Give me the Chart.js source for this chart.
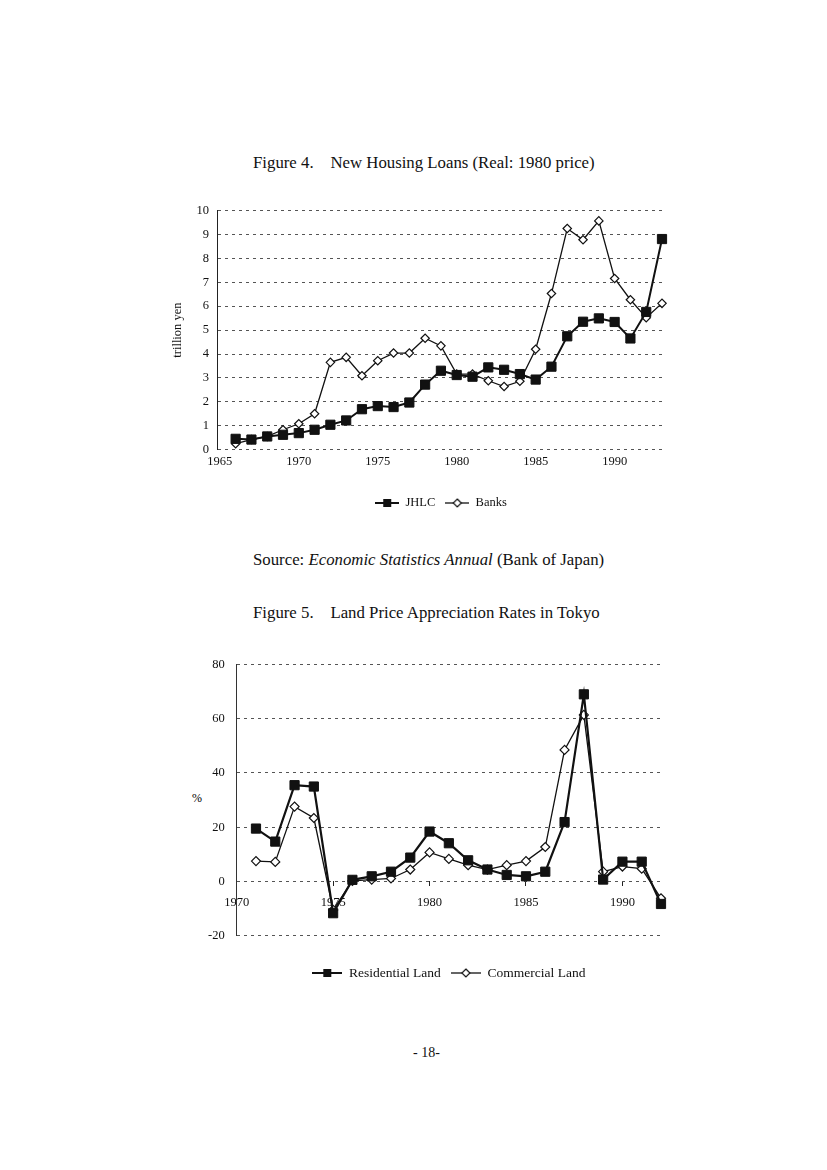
<!DOCTYPE html>
<html><head><meta charset="utf-8">
<script src="https://cdn.jsdelivr.net/npm/chart.js@4.4.0/dist/chart.umd.min.js"></script>
<style>
body{margin:0;background:#fff;width:827px;height:1170px;position:relative;overflow:hidden;font-family:"Liberation Serif","DejaVu Serif",serif;color:#111}
.t{position:absolute;left:253px;font-size:16.8px;line-height:17px;white-space:pre;color:#111}
canvas{position:absolute}
</style></head><body>
<div class="t" style="top:154px">Figure 4.    New Housing Loans (Real: 1980 price)</div>
<div class="t" style="top:551px">Source: <i>Economic Statistics Annual</i> (Bank of Japan)</div>
<div class="t" style="top:604px">Figure 5.    Land Price Appreciation Rates in Tokyo</div>
<div class="t" style="left:192px;top:790px;font-size:12px;color:#000">%</div>
<div class="t" style="left:413px;top:1044px;font-size:14px">- 18-</div>
<canvas id="c1" width="530" height="330" style="left:150px;top:195px"></canvas>
<canvas id="c2" width="530" height="345" style="left:150px;top:645px"></canvas>
<script>
// ---- Figure 4 data ----
const years1 = [1966,1967,1968,1969,1970,1971,1972,1973,1974,1975,1976,1977,1978,1979,1980,1981,1982,1983,1984,1985,1986,1987,1988,1989,1990,1991,1992,1993];
const jhlc  = [0.45,0.42,0.55,0.62,0.69,0.83,1.04,1.22,1.69,1.82,1.78,1.97,2.72,3.30,3.12,3.05,3.44,3.34,3.16,2.93,3.47,4.74,5.35,5.49,5.34,4.65,5.76,8.81];
const banks = [0.25,0.42,0.55,0.83,1.08,1.50,3.65,3.86,3.09,3.72,4.04,4.04,4.66,4.34,3.16,3.16,2.88,2.64,2.86,4.20,6.53,9.25,8.78,9.57,7.16,6.27,5.52,6.12];
const xTicks1 = [1965,1970,1975,1980,1985,1990];
const seriesNames1 = ['JHLC','Banks'];
const yTitle1 = 'trillion yen';

// ---- Figure 5 data ----
const years2 = [1971,1972,1973,1974,1975,1976,1977,1978,1979,1980,1981,1982,1983,1984,1985,1986,1987,1988,1989,1990,1991,1992];
const residential = [19.5,14.7,35.5,35.0,-11.7,0.6,1.9,3.6,8.8,18.4,14.1,7.8,4.4,2.4,1.9,3.6,21.9,69.0,0.7,7.3,7.3,-8.3];
const commercial  = [7.5,7.2,27.6,23.4,-10.5,0.2,0.7,1.1,4.4,10.7,8.3,6.0,4.4,6.0,7.5,12.7,48.5,61.4,3.6,5.5,4.7,-6.2];
const xTicks2 = [1970,1975,1980,1985,1990];
const seriesNames2 = ['Residential Land','Commercial Land'];

Chart.defaults.font.family = '"Liberation Serif", "DejaVu Serif", serif';
Chart.defaults.color = '#111';

function icon(kind, w){
  const c = document.createElement('canvas'); c.width = w; c.height = 12;
  const g = c.getContext('2d');
  g.strokeStyle = '#111'; g.lineWidth = kind === 'sq' ? 2 : 1.3;
  g.beginPath(); g.moveTo(0,6); g.lineTo(w,6); g.stroke();
  if (kind === 'sq') { g.fillStyle = '#111'; g.fillRect(w/2-4,2,8,8); }
  else { g.fillStyle = '#fff'; g.lineWidth = 1.2; g.beginPath(); g.moveTo(w/2,2); g.lineTo(w/2+4,6); g.lineTo(w/2,10); g.lineTo(w/2-4,6); g.closePath(); g.fill(); g.stroke(); }
  return c;
}
function legendGen(icons){
  return chart => chart.data.datasets.map((d,i)=>({text:d.label, pointStyle:icons[i], fillStyle:'#111', strokeStyle:'#111', lineWidth:0, hidden:false, datasetIndex:i, fontColor:'#111'}));
}
const pts = (xs, ys) => xs.map((x,i)=>({x:x, y:ys[i]}));

// Figure 4
new Chart(document.getElementById('c1'), {
  type:'line',
  data:{datasets:[
    {label:seriesNames1[0], data:pts(years1,jhlc), borderColor:'#111', borderWidth:2, pointStyle:'rect', pointRadius:6.5, pointBackgroundColor:'#111', pointBorderColor:'#111', pointBorderWidth:1, tension:0, clip:false},
    {label:seriesNames1[1], data:pts(years1,banks), borderColor:'#111', borderWidth:1.3, pointStyle:'rectRot', pointRadius:4.2, pointBackgroundColor:'#fff', pointBorderColor:'#111', pointBorderWidth:1.2, tension:0, clip:false}
  ]},
  options:{
    responsive:false, animation:false, devicePixelRatio:1,
    layout:{padding:{left:16, top:15.6, right:15, bottom:5.75}},
    plugins:{
      tooltip:{enabled:false},
      legend:{position:'bottom', fullSize:false, labels:{usePointStyle:true, pointStyleWidth:24, font:{size:12.5}, color:'#111', padding:10, generateLabels:legendGen([icon('sq',24), icon('di',24)])}}
    },
    scales:{
      x:{type:'linear', min:1964.82, max:1993.19,
         afterBuildTicks:s=>{s.ticks = xTicks1.map(v=>({value:v}));},
         afterFit:s=>{s.height = 37.15;},
         grid:{display:false, drawTicks:false}, border:{display:false},
         ticks:{padding:5, font:{size:12.5}, color:'#111', maxRotation:0, autoSkip:false, callback:v=>String(v)}},
      y:{min:0, max:10,
         afterFit:s=>{s.width = 51;},
         ticks:{stepSize:1, padding:8, font:{size:12.5}, color:'#111'},
         grid:{color:'#555', lineWidth:1, drawTicks:false},
         border:{display:true, color:'#222', width:1, dash:[3,4]},
         title:{display:true, text:yTitle1, font:{size:12.5}, color:'#111', padding:{top:4, bottom:0}}}
    }
  }
});

// Figure 5
new Chart(document.getElementById('c2'), {
  type:'line',
  data:{datasets:[
    {label:seriesNames2[0], data:pts(years2,residential), borderColor:'#111', borderWidth:2.2, pointStyle:'rect', pointRadius:6.5, pointBackgroundColor:'#111', pointBorderColor:'#111', pointBorderWidth:1, tension:0, clip:false},
    {label:seriesNames2[1], data:pts(years2,commercial), borderColor:'#111', borderWidth:1.3, pointStyle:'rectRot', pointRadius:4.5, pointBackgroundColor:'#fff', pointBorderColor:'#111', pointBorderWidth:1.2, tension:0, clip:false}
  ]},
  options:{
    responsive:false, animation:false, devicePixelRatio:1,
    layout:{padding:{left:30, top:16.7, right:19, bottom:0.25}},
    plugins:{
      tooltip:{enabled:false},
      legend:{position:'bottom', fullSize:false,
        title:{display:true, text:'', font:{size:1}, padding:{top:0, bottom:19.35}},
        labels:{usePointStyle:true, pointStyleWidth:30, font:{size:13.5}, color:'#111', padding:10, generateLabels:legendGen([icon('sq',30), icon('di',30)])}}
    },
    scales:{
      x:{type:'linear', min:1970, max:1992, position:{y:0},
         afterBuildTicks:s=>{s.ticks = xTicks2.map(v=>({value:v}));},
         grid:{display:true, drawOnChartArea:false, drawTicks:true, tickLength:5, color:'#222'},
         border:{display:false},
         ticks:{padding:9, font:{size:12.5}, color:'#111', maxRotation:0, autoSkip:false, callback:v=>String(v)}},
      y:{min:-20, max:80,
         afterFit:s=>{s.width = 56.7;},
         ticks:{stepSize:20, padding:12, font:{size:12.5}, color:'#111'},
         grid:{color:'#555', lineWidth:1, drawTicks:false},
         border:{display:true, color:'#333', width:1, dash:[3,4]}}
    }
  }
});
</script>
</body></html>
